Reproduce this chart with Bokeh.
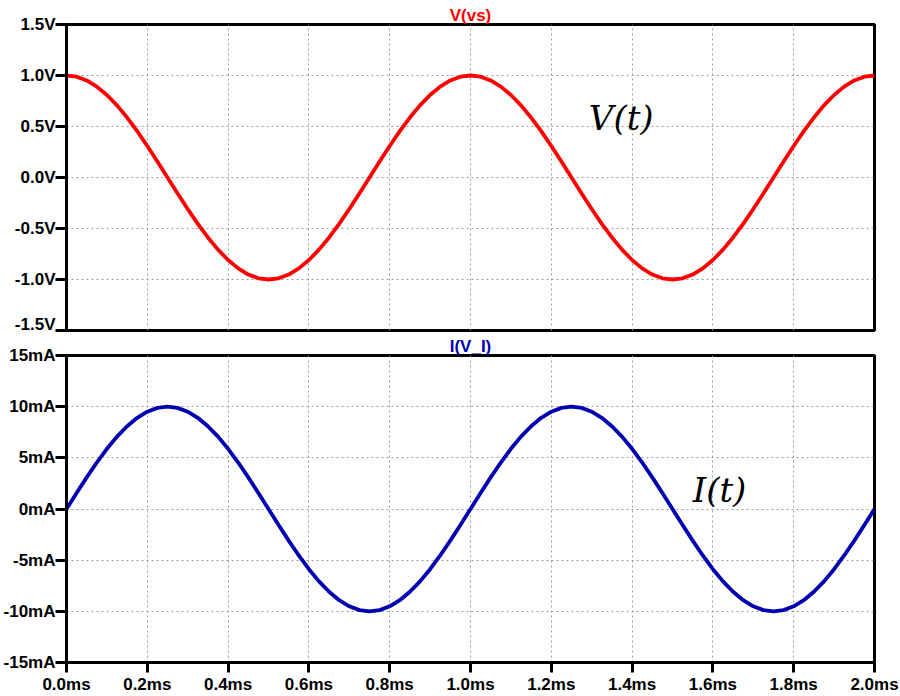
from bokeh.plotting import figure
from bokeh.layouts import column
from bokeh.models import Range1d, FixedTicker, Label
from bokeh.embed import file_html
from bokeh.resources import INLINE

# ---- data ----
t_ms = [0.000, 0.025, 0.050, 0.075, 0.100, 0.125, 0.150, 0.175, 0.200, 0.225,
        0.250, 0.275, 0.300, 0.325, 0.350, 0.375, 0.400, 0.425, 0.450, 0.475,
        0.500, 0.525, 0.550, 0.575, 0.600, 0.625, 0.650, 0.675, 0.700, 0.725,
        0.750, 0.775, 0.800, 0.825, 0.850, 0.875, 0.900, 0.925, 0.950, 0.975,
        1.000, 1.025, 1.050, 1.075, 1.100, 1.125, 1.150, 1.175, 1.200, 1.225,
        1.250, 1.275, 1.300, 1.325, 1.350, 1.375, 1.400, 1.425, 1.450, 1.475,
        1.500, 1.525, 1.550, 1.575, 1.600, 1.625, 1.650, 1.675, 1.700, 1.725,
        1.750, 1.775, 1.800, 1.825, 1.850, 1.875, 1.900, 1.925, 1.950, 1.975,
        2.000]

v_vs = [1.000, 0.988, 0.951, 0.891, 0.809, 0.707, 0.588, 0.454, 0.309, 0.156,
        0.000, -0.156, -0.309, -0.454, -0.588, -0.707, -0.809, -0.891, -0.951, -0.988,
        -1.000, -0.988, -0.951, -0.891, -0.809, -0.707, -0.588, -0.454, -0.309, -0.156,
        0.000, 0.156, 0.309, 0.454, 0.588, 0.707, 0.809, 0.891, 0.951, 0.988,
        1.000, 0.988, 0.951, 0.891, 0.809, 0.707, 0.588, 0.454, 0.309, 0.156,
        0.000, -0.156, -0.309, -0.454, -0.588, -0.707, -0.809, -0.891, -0.951, -0.988,
        -1.000, -0.988, -0.951, -0.891, -0.809, -0.707, -0.588, -0.454, -0.309, -0.156,
        0.000, 0.156, 0.309, 0.454, 0.588, 0.707, 0.809, 0.891, 0.951, 0.988,
        1.000]

i_mA = [0.00, 1.56, 3.09, 4.54, 5.88, 7.07, 8.09, 8.91, 9.51, 9.88,
        10.00, 9.88, 9.51, 8.91, 8.09, 7.07, 5.88, 4.54, 3.09, 1.56,
        0.00, -1.56, -3.09, -4.54, -5.88, -7.07, -8.09, -8.91, -9.51, -9.88,
        -10.00, -9.88, -9.51, -8.91, -8.09, -7.07, -5.88, -4.54, -3.09, -1.56,
        0.00, 1.56, 3.09, 4.54, 5.88, 7.07, 8.09, 8.91, 9.51, 9.88,
        10.00, 9.88, 9.51, 8.91, 8.09, 7.07, 5.88, 4.54, 3.09, 1.56,
        0.00, -1.56, -3.09, -4.54, -5.88, -7.07, -8.09, -8.91, -9.51, -9.88,
        -10.00, -9.88, -9.51, -8.91, -8.09, -7.07, -5.88, -4.54, -3.09, -1.56,
        0.00]

x_ticks = [0.0, 0.2, 0.4, 0.6, 0.8, 1.0, 1.2, 1.4, 1.6, 1.8, 2.0]
x_labels = ["0.0ms", "0.2ms", "0.4ms", "0.6ms", "0.8ms", "1.0ms",
            "1.2ms", "1.4ms", "1.6ms", "1.8ms", "2.0ms"]
v_ticks = [-1.5, -1.0, -0.5, 0.0, 0.5, 1.0, 1.5]
v_labels = ["-1.5V", "-1.0V", "-0.5V", "0.0V", "0.5V", "1.0V", "1.5V"]
i_ticks = [-15, -10, -5, 0, 5, 10, 15]
i_labels = ["-15mA", "-10mA", "-5mA", "0mA", "5mA", "10mA", "15mA"]

v_title = "V(vs)"
i_title = "I(V_I)"
v_note = "V(t)"
i_note = "I(t)"

FONT = "Liberation Sans"
RED = "#FF0000"
BLUE = "#0000B0"


def style(p, yt, yl, show_x):
    p.outline_line_color = "black"
    p.outline_line_width = 3
    p.background_fill_color = "white"
    p.border_fill_color = "white"
    p.title.text_font = FONT
    p.title.text_font_size = "17px"
    p.title.text_font_style = "bold"
    p.title.align = "center"
    p.title.standoff = 0
    p.title.offset = 0
    for g, tk in ((p.xgrid[0], x_ticks), (p.ygrid[0], yt)):
        g.ticker = FixedTicker(ticks=tk)
        g.grid_line_color = "#9a9a9a"
        g.grid_line_dash = "2 3"
        g.grid_line_width = 1
    ya = p.yaxis[0]
    ya.ticker = FixedTicker(ticks=yt)
    ya.major_label_overrides = {k: s for k, s in zip(yt, yl)}
    xa = p.xaxis[0]
    xa.ticker = FixedTicker(ticks=x_ticks)
    xa.major_label_overrides = {k: s for k, s in zip(x_ticks, x_labels)}
    for ax in (xa, ya):
        ax.axis_line_width = 3
        ax.axis_line_color = "black"
        ax.major_tick_line_width = 3
        ax.major_tick_line_color = "black"
        ax.major_tick_in = 0
        ax.minor_tick_line_color = None
        ax.major_label_text_font = FONT
        ax.major_label_text_font_size = "17px"
        ax.major_label_text_font_style = "bold"
        ax.major_label_text_color = "black"
    ya.major_tick_out = 11
    ya.major_label_standoff = 0
    xa.major_tick_out = 10
    xa.major_label_standoff = 2
    xa.visible = show_x


W = 900
p1 = figure(width=W, height=333, output_backend="svg", toolbar_location=None,
            x_range=Range1d(0, 2), y_range=Range1d(-1.5, 1.5),
            min_border_left=65, min_border_right=26,
            min_border_top=24, min_border_bottom=3, title=v_title)
style(p1, v_ticks, v_labels, False)
p1.title.text_color = RED
p1.line(t_ms, v_vs, line_color=RED, line_width=3.8)
p1.add_layout(Label(x=1.293, y=0.58, text=v_note, text_font="DejaVu Serif",
                    text_font_style="italic", text_font_size="34px",
                    text_color="black", text_baseline="alphabetic"))

p2 = figure(width=W, height=363, output_backend="svg", toolbar_location=None,
            x_range=Range1d(0, 2), y_range=Range1d(-15, 15),
            min_border_left=65, min_border_right=26,
            min_border_top=22, min_border_bottom=33, title=i_title)
style(p2, i_ticks, i_labels, True)
p2.title.text_color = BLUE
p2.line(t_ms, i_mA, line_color=BLUE, line_width=3.8)
p2.add_layout(Label(x=1.55, y=1.88, text=i_note, text_font="DejaVu Serif",
                    text_font_style="italic", text_font_size="34px",
                    text_color="black", text_baseline="alphabetic"))

layout = column(p1, p2, spacing=0)
open("out.html", "w").write(file_html(layout, INLINE))
